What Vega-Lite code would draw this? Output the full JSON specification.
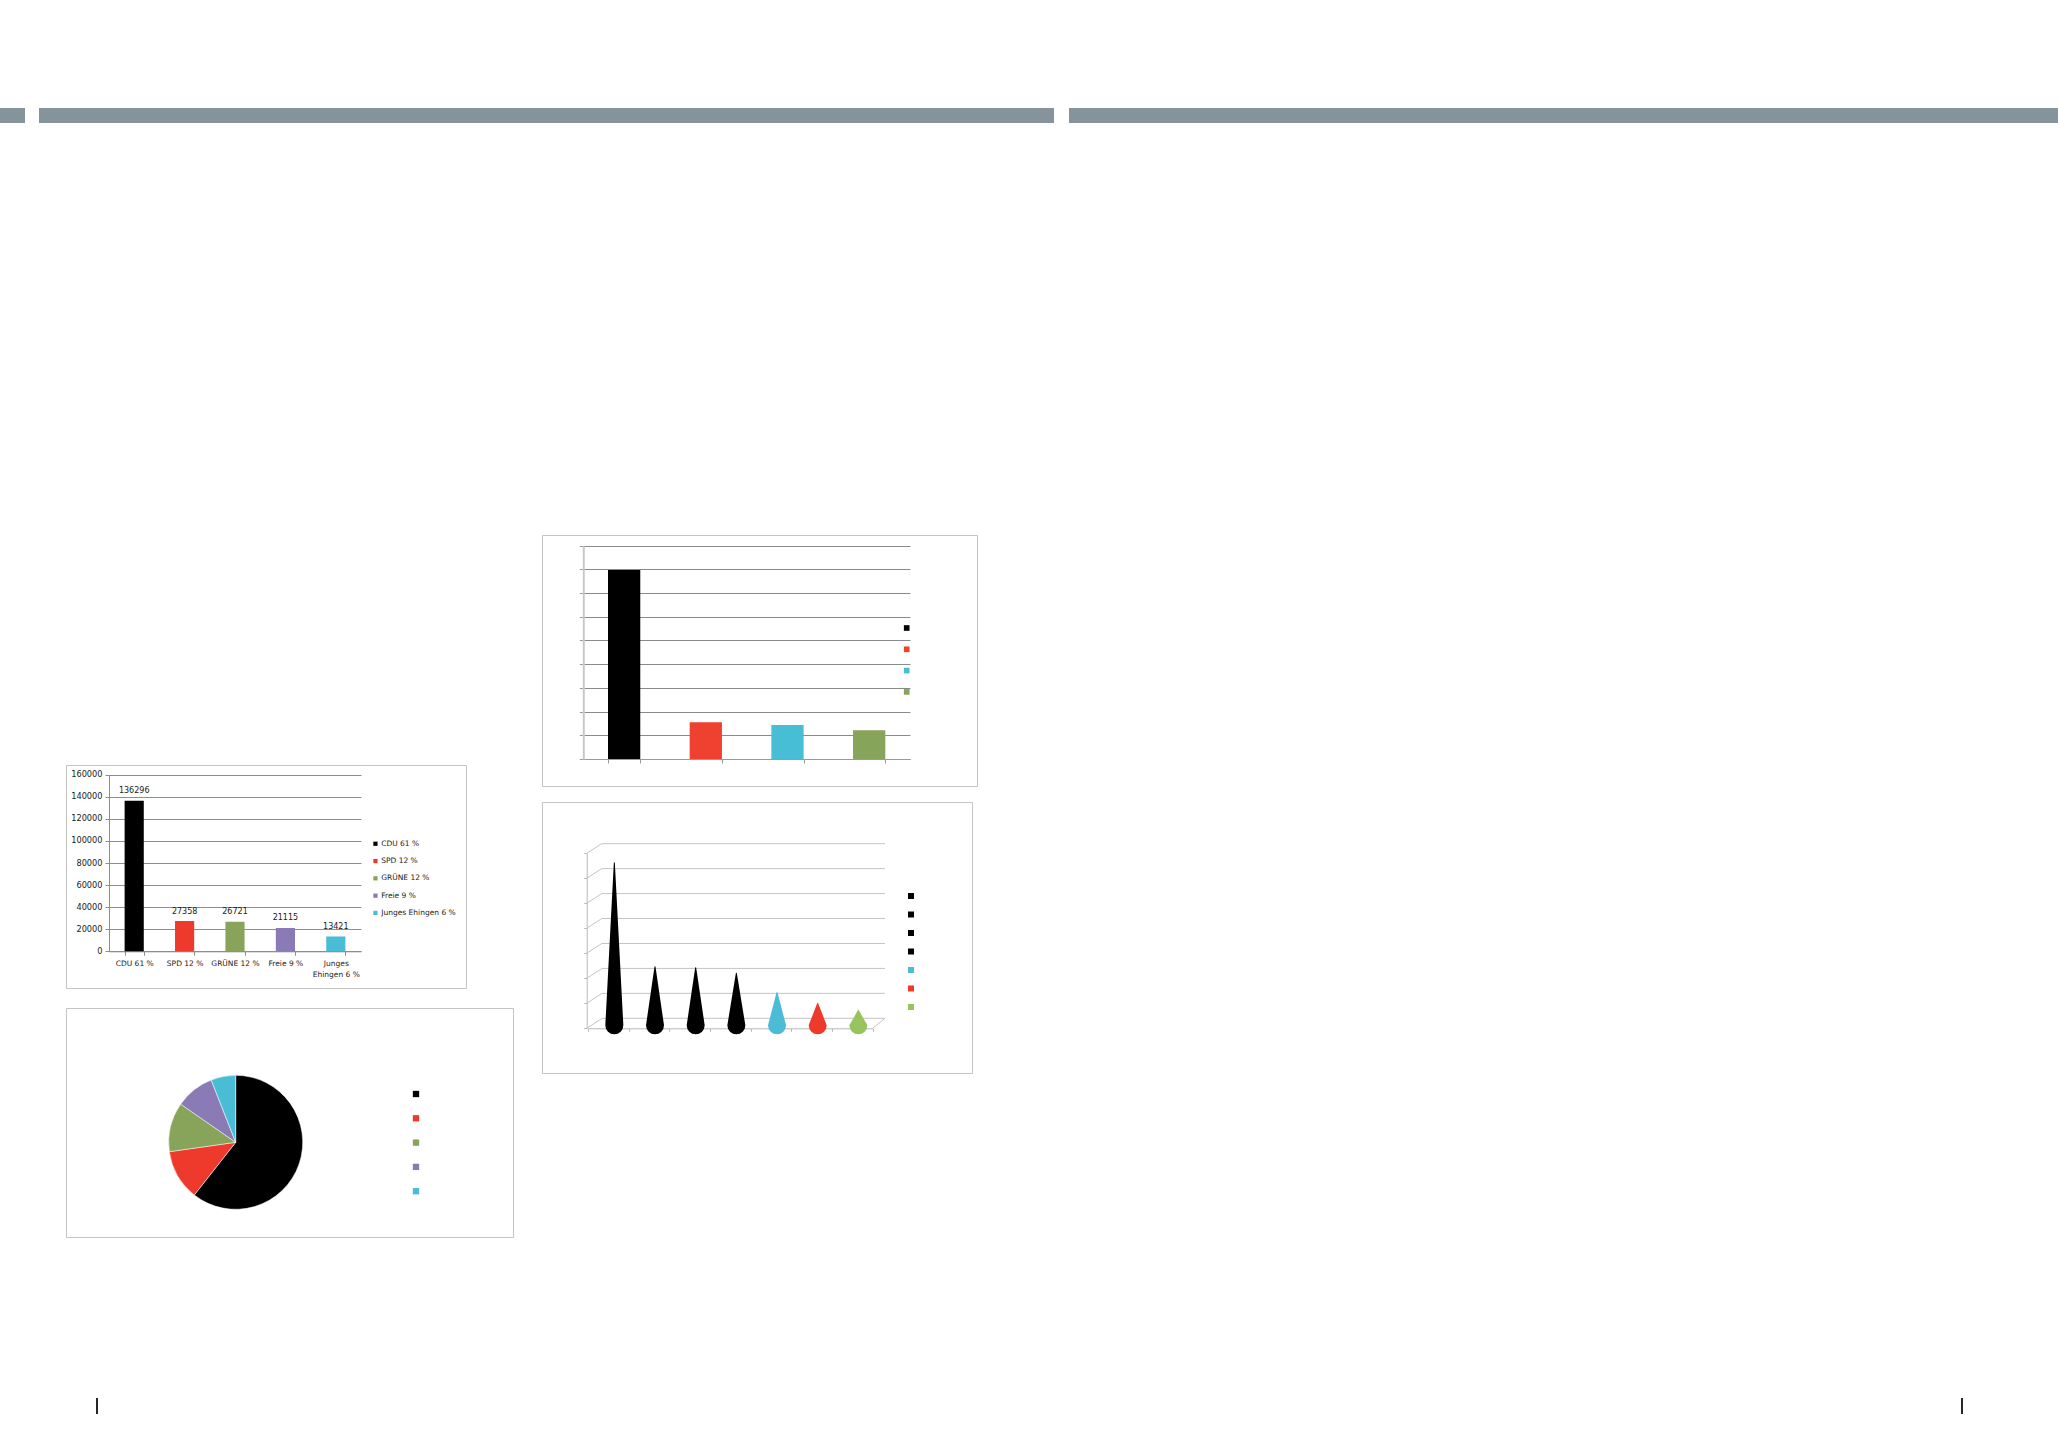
{
  "$schema": "https://vega.github.io/schema/vega-lite/v6.json",
  "padding": {"left": 0, "top": 108, "right": 0, "bottom": 0},
  "background": "white",
  "config": {
    "font": "DejaVu Sans",
    "view": {"stroke": "#c4c4c4", "strokeWidth": 1},
    "legend": {"padding": 0, "titlePadding": 0}
  },
  "spacing": 159,
  "resolve": {"scale": {"color": "independent", "size": "independent"}, "legend": {"color": "independent"}},
  "vconcat": [
    {
      "spacing": 411,
      "resolve": {"scale": {"color": "independent", "size": "independent"}, "legend": {"color": "independent"}},
      "vconcat": [
        {
          "width": 2058,
          "height": 15,
          "view": {"stroke": null},
          "data": {"values": [{"von": 0, "bis": 25}, {"von": 39, "bis": 1054}, {"von": 1069, "bis": 2058}]},
          "mark": {"type": "rect", "color": "#85939b"},
          "encoding": {
            "x": {"field": "von", "type": "quantitative", "scale": {"domain": [0, 2058], "nice": false, "zero": false}, "axis": null},
            "x2": {"field": "bis"}
          }
        },
        {
          "spacing": 27,
          "resolve": {"scale": {"color": "independent", "size": "independent"}, "legend": {"color": "independent"}},
          "hconcat": [
            {
              "width": 38,
              "height": 1,
              "view": {"stroke": null},
              "data": {"values": []},
              "mark": "point"
            },
            {
              "spacing": 18,
              "resolve": {"scale": {"color": "independent", "size": "independent"}, "legend": {"color": "independent"}},
              "vconcat": [
                {
                  "width": 10,
                  "height": 211,
                  "view": {"stroke": null},
                  "data": {"values": []},
                  "mark": "point"
                },
                {
                  "width": 400,
                  "height": 223,
                  "data": {"values": [
                    {"partei": "CDU 61 %", "stimmen": 136296},
                    {"partei": "SPD 12 %", "stimmen": 27358},
                    {"partei": "GRÜNE 12 %", "stimmen": 26721},
                    {"partei": "Freie 9 %", "stimmen": 21115},
                    {"partei": "Junges Ehingen 6 %", "stimmen": 13421}
                  ]},
                  "encoding": {
                    "x": {
                      "field": "partei", "type": "nominal", "sort": null,
                      "scale": {"range": [43, 295], "paddingInner": 0.62, "paddingOuter": 0.31},
                      "axis": {
                        "title": null, "offset": -36.7, "labelAngle": 0, "tickBand": "extent",
                        "tickSize": 4, "domainColor": "#8d8d8d", "tickColor": "#8d8d8d",
                        "labelFontSize": 7.5, "labelColor": "#1a1a1a", "labelPadding": 4.5,
                        "labelLineHeight": 11, "labelLimit": 0,
                        "labelExpr": "datum.value == 'Junges Ehingen 6 %' ? ['Junges', 'Ehingen 6 %'] : datum.value"
                      }
                    },
                    "y": {
                      "field": "stimmen", "type": "quantitative",
                      "scale": {"domain": [0, 160000], "range": [186.3, 9.7], "nice": false},
                      "axis": {
                        "title": null, "offset": -43,
                        "values": [0, 20000, 40000, 60000, 80000, 100000, 120000, 140000, 160000],
                        "format": "d", "tickSize": 4, "labelPadding": 3, "labelFontSize": 8.2,
                        "labelColor": "#1a1a1a", "gridColor": "#8d8d8d", "domainColor": "#8d8d8d", "tickColor": "#8d8d8d"
                      }
                    }
                  },
                  "layer": [
                    {
                      "mark": {"type": "bar"},
                      "encoding": {
                        "color": {
                          "field": "partei", "type": "nominal", "sort": null,
                          "scale": {
                            "domain": ["CDU 61 %", "SPD 12 %", "GRÜNE 12 %", "Freie 9 %", "Junges Ehingen 6 %"],
                            "range": ["#000000", "#ee3a2c", "#87a45a", "#8a7bb7", "#49bdd6"]
                          },
                          "legend": {
                            "title": null, "orient": "none", "legendX": 305.7, "legendY": 75,
                            "symbolType": "square", "symbolSize": 18, "symbolStrokeWidth": 0,
                            "labelFontSize": 7.5, "labelColor": "#1a1a1a", "labelOffset": 2, "rowPadding": 8.3
                          }
                        }
                      }
                    },
                    {
                      "mark": {"type": "text", "dy": -9.5, "fontSize": 8, "color": "#1a1a1a"},
                      "encoding": {"text": {"field": "stimmen", "type": "quantitative", "format": "d"}}
                    }
                  ]
                },
                {
                  "width": 447,
                  "height": 229,
                  "view": {"stroke": "#c4c4c4", "strokeWidth": 1},
                  "data": {"values": [
                    {"partei": "CDU 61 %", "stimmen": 136296},
                    {"partei": "SPD 12 %", "stimmen": 27358},
                    {"partei": "GRÜNE 12 %", "stimmen": 26721},
                    {"partei": "Freie 9 %", "stimmen": 21115},
                    {"partei": "Junges Ehingen 6 %", "stimmen": 13421}
                  ]},
                  "mark": {"type": "arc", "radius": 67, "xOffset": -53.8, "yOffset": 19.8, "stroke": "white", "strokeWidth": 0.5},
                  "encoding": {
                    "theta": {"field": "stimmen", "type": "quantitative"},
                    "order": {"field": "stimmen", "type": "quantitative", "sort": "descending"},
                    "color": {
                      "field": "partei", "type": "nominal", "sort": null,
                      "scale": {
                        "domain": ["CDU 61 %", "SPD 12 %", "GRÜNE 12 %", "Freie 9 %", "Junges Ehingen 6 %"],
                        "range": ["#000000", "#ee3a2c", "#87a45a", "#8a7bb7", "#49bdd6"]
                      },
                      "legend": {
                        "title": null, "orient": "none", "legendX": 345, "legendY": 81,
                        "symbolType": "square", "symbolSize": 40, "symbolStrokeWidth": 0,
                        "labelExpr": "''", "rowPadding": 14.3
                      }
                    }
                  }
                }
              ]
            },
            {
              "spacing": 14,
              "resolve": {"scale": {"color": "independent", "size": "independent"}, "legend": {"color": "independent"}},
              "vconcat": [
                {
                  "width": 435,
                  "height": 251,
                  "data": {"values": [
                    {"partei": "CDU", "wert": 79.7},
                    {"partei": "SPD", "wert": 15.5},
                    {"partei": "Junges Ehingen", "wert": 14.3},
                    {"partei": "GRÜNE", "wert": 12.1}
                  ]},
                  "mark": {"type": "bar"},
                  "encoding": {
                    "x": {
                      "field": "partei", "type": "nominal", "sort": null,
                      "scale": {"range": [41.3, 368], "paddingInner": 0.605, "paddingOuter": 0.3025},
                      "axis": {
                        "title": null, "labels": false, "offset": -27, "tickBand": "extent", "tickSize": 4,
                        "domainColor": "#9a9a9a", "tickColor": "#9a9a9a"
                      }
                    },
                    "y": {
                      "field": "wert", "type": "quantitative",
                      "scale": {"domain": [0, 90], "range": [224, 10.7], "nice": false},
                      "axis": {
                        "title": null, "labels": false, "offset": -41.3,
                        "values": [0, 10, 20, 30, 40, 50, 60, 70, 80, 90],
                        "tickSize": 4, "gridColor": "#8a8a8a", "domainColor": "#c8c8c8", "domainWidth": 2, "tickColor": "#9a9a9a"
                      }
                    },
                    "color": {
                      "field": "partei", "type": "nominal", "sort": null,
                      "scale": {"domain": ["CDU", "SPD", "Junges Ehingen", "GRÜNE"], "range": ["#000000", "#ee4130", "#48bed6", "#87a55a"]},
                      "legend": {
                        "title": null, "orient": "none", "legendX": 359.7, "legendY": 88,
                        "symbolType": "square", "symbolSize": 32, "symbolStrokeWidth": 0,
                        "labelExpr": "''", "rowPadding": 11.3
                      }
                    }
                  }
                },
                {
                  "width": 430,
                  "height": 271,
                  "resolve": {"scale": {"x": "independent", "y": "independent"}},
                  "layer": [
                    {
                      "data": {"values": [{"v": 0}, {"v": 10}, {"v": 20}, {"v": 30}, {"v": 40}, {"v": 50}, {"v": 60}, {"v": 70}]},
                      "mark": {"type": "rule", "color": "#c4c4c4"},
                      "encoding": {
                        "x": {"datum": 0, "type": "quantitative", "scale": {"domain": [0, 1], "range": [59.7, 343], "nice": false, "zero": false}, "axis": null},
                        "x2": {"datum": 1},
                        "y": {"field": "v", "type": "quantitative", "scale": {"domain": [0, 70], "range": [216.3, 41.7], "nice": false}, "axis": null}
                      }
                    },
                    {
                      "data": {"values": [{"v": 0}, {"v": 10}, {"v": 20}, {"v": 30}, {"v": 40}, {"v": 50}, {"v": 60}, {"v": 70}]},
                      "mark": {"type": "rule", "color": "#c4c4c4", "x2Offset": 15, "y2Offset": -9.7},
                      "encoding": {
                        "x": {"datum": 0, "type": "quantitative", "scale": {"domain": [0, 1], "range": [44.7, 330.7], "nice": false, "zero": false}, "axis": null},
                        "x2": {"datum": 0},
                        "y": {
                          "field": "v", "type": "quantitative",
                          "scale": {"domain": [0, 70], "range": [226.3, 51.3], "nice": false},
                          "axis": {
                            "title": null, "labels": false, "orient": "left", "offset": -44.7,
                            "values": [0, 10, 20, 30, 40, 50, 60, 70], "tickSize": 3, "grid": false,
                            "domainColor": "#b8b8b8", "tickColor": "#b8b8b8"
                          }
                        },
                        "y2": {"field": "v"}
                      }
                    },
                    {
                      "data": {"values": [{"v": 0}]},
                      "mark": {"type": "rule", "color": "#c4c4c4", "x2Offset": 12.3, "y2Offset": -10},
                      "encoding": {
                        "x": {"datum": 1, "type": "quantitative", "scale": {"domain": [0, 1], "range": [44.7, 330.7], "nice": false, "zero": false}, "axis": null},
                        "x2": {"datum": 1},
                        "y": {"field": "v", "type": "quantitative", "scale": {"domain": [0, 70], "range": [226.3, 51.3], "nice": false}, "axis": null},
                        "y2": {"field": "v"}
                      }
                    },
                    {
                      "data": {"values": [
                        {"saeule": "CDU 1", "wert": 65.2, "punkt": "Spitze"},
                        {"saeule": "CDU 2", "wert": 23.5, "punkt": "Spitze"},
                        {"saeule": "CDU 3", "wert": 23.1, "punkt": "Spitze"},
                        {"saeule": "CDU 4", "wert": 20.9, "punkt": "Spitze"},
                        {"saeule": "Junges Ehingen", "wert": 13.1, "punkt": "Spitze"},
                        {"saeule": "SPD", "wert": 8.8, "punkt": "Spitze"},
                        {"saeule": "GRÜNE", "wert": 6.0, "punkt": "Spitze"}
                      ]},
                      "transform": [
                        {"impute": "wert", "key": "punkt", "keyvals": ["Fuß", "Spitze"], "groupby": ["saeule"], "value": 0}
                      ],
                      "mark": {"type": "trail", "xOffset": 6},
                      "encoding": {
                        "x": {
                          "field": "saeule", "type": "nominal", "sort": null,
                          "scale": {
                            "type": "band",
                            "domain": ["CDU 1", "CDU 2", "CDU 3", "CDU 4", "Junges Ehingen", "SPD", "GRÜNE"],
                            "range": [46, 330.7], "paddingInner": 0, "paddingOuter": 0
                          },
                          "axis": {
                            "title": null, "labels": false, "orient": "bottom", "offset": -44.7,
                            "tickBand": "extent", "tickSize": 3, "grid": false,
                            "domainColor": "#b8b8b8", "tickColor": "#b8b8b8"
                          }
                        },
                        "y": {"field": "wert", "type": "quantitative", "scale": {"domain": [0, 70], "range": [223.3, 48.7], "nice": false}, "axis": null},
                        "size": {
                          "field": "punkt", "type": "ordinal",
                          "scale": {"type": "point", "domain": ["Fuß", "Spitze"], "range": [18, 0], "padding": 0},
                          "legend": null
                        },
                        "order": {"field": "wert", "type": "quantitative"},
                        "color": {
                          "field": "saeule", "type": "nominal", "sort": null,
                          "scale": {
                            "domain": ["CDU 1", "CDU 2", "CDU 3", "CDU 4", "Junges Ehingen", "SPD", "GRÜNE"],
                            "range": ["#000000", "#000000", "#000000", "#000000", "#4cbbd5", "#ee3a2b", "#99c45d"]
                          },
                          "legend": {
                            "title": null, "orient": "none", "legendX": 364, "legendY": 89,
                            "symbolType": "square", "symbolSize": 9, "symbolStrokeWidth": 3,
                            "labelExpr": "''", "rowPadding": 2.5
                          }
                        }
                      }
                    }
                  ]
                }
              ]
            }
          ]
        }
      ]
    },
    {
      "width": 2058,
      "height": 16,
      "view": {"stroke": null},
      "data": {"values": [{"pos": 97}, {"pos": 1962}]},
      "mark": {"type": "rule", "color": "#2a2624", "strokeWidth": 2},
      "encoding": {
        "x": {"field": "pos", "type": "quantitative", "scale": {"domain": [0, 2058], "nice": false, "zero": false}, "axis": null}
      }
    }
  ]
}
